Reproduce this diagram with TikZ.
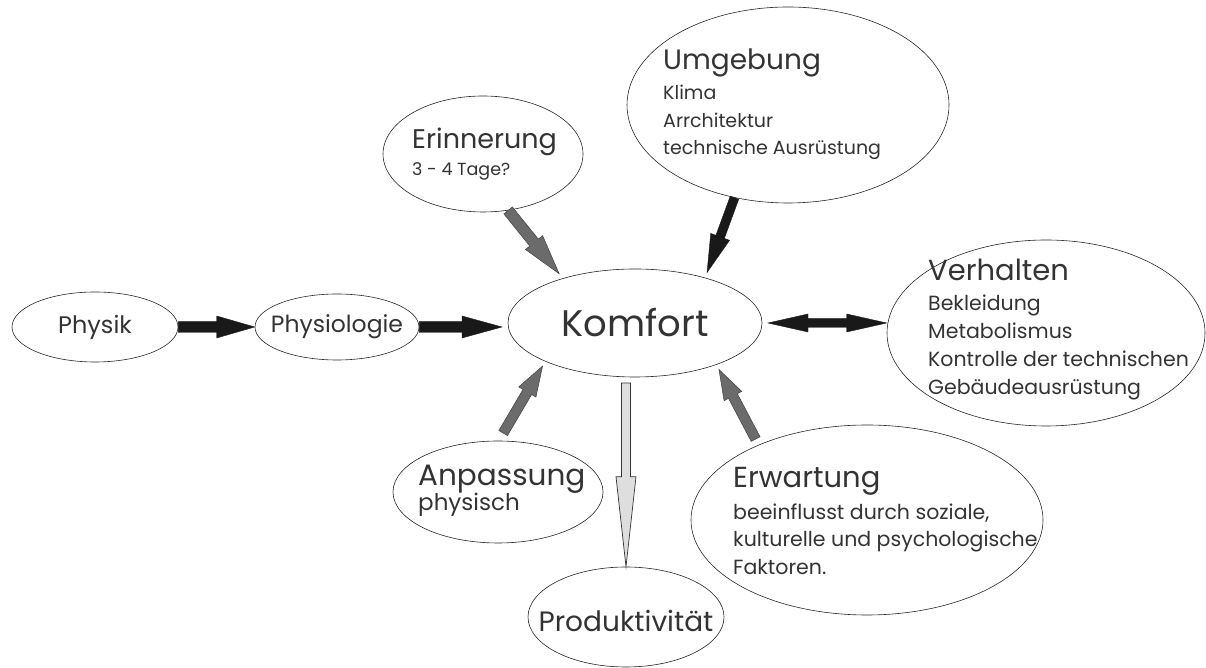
\documentclass[tikz,border=0pt]{standalone}
\usepackage{fontspec}
\setmainfont{Poppins}
\usetikzlibrary{shapes.geometric, calc, positioning}
\lineskiplimit=-50pt\relax

\tikzset{
  bubble/.style={ellipse, draw=black!85, line width=0.6pt, inner sep=0pt},
  words/.style={align=left, inner sep=0pt, text=black!80, font=\fontsize{19}{27.5}\selectfont},
  fatblack/.style={fill=black!90, draw=black!90, line width=0.4pt},
  fatgray/.style={fill=black!58, draw=black!75, line width=0.5pt},
  fatlight/.style={fill=black!13, draw=black!80, line width=0.7pt}
}
\newcommand{\ttl}[2][28]{{\fontsize{#1}{#1}\selectfont #2}}

% fat arrow: style, from, to, half shaft, half head, head length
\newcommand{\fatarrow}[6][fatblack]{%
  \path (#2) coordinate (fa-s) (#3) coordinate (fa-e);
  \path ($(fa-e)!#6!(fa-s)$) coordinate (fa-h);
  \filldraw[#1] ($(fa-s)!#4!90:(fa-e)$) -- ($(fa-h)!#4!90:(fa-e)$) -- ($(fa-h)!#5!90:(fa-e)$)
    -- (fa-e) -- ($(fa-h)!#5!-90:(fa-e)$) -- ($(fa-h)!#4!-90:(fa-e)$) -- ($(fa-s)!#4!-90:(fa-e)$) -- cycle;
}
% same, with a head at both ends
\newcommand{\fatdarrow}[6][fatblack]{%
  \path (#2) coordinate (fa-s) (#3) coordinate (fa-e);
  \path ($(fa-s)!#6!(fa-e)$) coordinate (fa-a) ($(fa-e)!#6!(fa-s)$) coordinate (fa-b);
  \filldraw[#1] (fa-s) -- ($(fa-a)!#5!90:(fa-e)$) -- ($(fa-a)!#4!90:(fa-e)$) -- ($(fa-b)!#4!90:(fa-e)$)
    -- ($(fa-b)!#5!90:(fa-e)$) -- (fa-e) -- ($(fa-b)!#5!-90:(fa-e)$) -- ($(fa-b)!#4!-90:(fa-e)$)
    -- ($(fa-a)!#4!-90:(fa-e)$) -- ($(fa-a)!#5!-90:(fa-e)$) -- cycle;
}

\begin{document}
\begin{tikzpicture}[x=1pt, y=1pt]
  \useasboundingbox (0,0) rectangle (1206,668);

  % bubbles
  \node[bubble, minimum width=166pt, minimum height=70pt] (phys) at (95,341) {};
  \node[words, font=\fontsize{24}{28}\selectfont] (phys-t) at (phys) {Physik};
  \node[bubble, minimum width=164pt, minimum height=66pt] (physio) at (337,341) {};
  \node[words, font=\fontsize{23.5}{28}\selectfont] (physio-t) at (physio) {Physiologie};
  \node[bubble, minimum width=254pt, minimum height=108pt, outer sep=6pt] (komfort) at (635,345) {};
  \node[words, font=\fontsize{37}{40}\selectfont] (komfort-t) at (komfort) {Komfort};

  \node[bubble, minimum width=200pt, minimum height=116pt] (erin) at (483,514) {};
  \node[words, anchor=west, font=\fontsize{17.5}{27}\selectfont] (erin-t) at ([xshift=-71pt]erin.center)
    {\ttl[27]{Erinnerung}\\3 - 4 Tage?};
  \node[bubble, minimum width=322pt, minimum height=196pt] (umg) at (788,563) {};
  \node[words, anchor=west] (umg-t) at ([xshift=-125pt, yshift=1pt]umg.center)
    {\ttl[28]{Umgebung}\\[3pt]Klima\\Arrchitektur\\technische Ausrüstung};
  \node[bubble, minimum width=318pt, minimum height=186pt] (verh) at (1046,335) {};
  \node[words, anchor=west, font=\fontsize{20.5}{28}\selectfont] (verh-t) at ([xshift=-118pt, yshift=3pt]verh.center)
    {\ttl[29]{Verhalten}\\[2pt]Bekleidung\\Metabolismus\\Kontrolle der technischen\\Gebäudeausrüstung};

  \node[bubble, minimum width=210pt, minimum height=102pt, outer sep=8pt] (anp) at (498,176) {};
  \node[words, anchor=west, font=\fontsize{23}{27.5}\selectfont] (anp-t) at ([xshift=-80pt, yshift=1pt]anp.center)
    {\ttl[29.5]{Anpassung}\\[-2pt]physisch};
  \node[bubble, minimum width=352pt, minimum height=190pt, outer sep=7pt] (erw) at (867,148) {};
  \node[words, anchor=west, font=\fontsize{20.5}{27.5}\selectfont] (erw-t) at ([xshift=-134pt, yshift=-1pt]erw.center)
    {\ttl[29]{Erwartung}\\[4pt]beeinflusst durch soziale,\\kulturelle und psychologische\\Faktoren.};
  \node[bubble, minimum width=196pt, minimum height=100pt] (prod) at (626,51) {};
  \node[words, font=\fontsize{28}{32}\selectfont] (prod-t) at ([yshift=-4pt]prod.center) {Produktivität};

  % arrows
  \fatarrow{phys.east}{physio.west}{5.5pt}{11pt}{38pt}
  \fatarrow{physio.east}{physio.east -| komfort.west}{5.5pt}{11pt}{40pt}
  \fatarrow[fatgray]{erin.-66}{komfort.147}{5.5pt}{11pt}{40pt}
  \fatarrow{umg.-120}{komfort.35}{4.5pt}{10pt}{38pt}
  \fatdarrow{komfort.east}{komfort.east -| verh.west}{4.5pt}{9pt}{40pt}
  \fatarrow[fatgray]{anp.85}{komfort.205}{5pt}{10pt}{30pt}
  \fatarrow[fatgray]{erw.144}{komfort.-29}{5pt}{10pt}{30pt}
  \fatarrow[fatlight]{komfort.south -| prod.north}{prod.north}{4.5pt}{10pt}{90pt}
\end{tikzpicture}
\end{document}
